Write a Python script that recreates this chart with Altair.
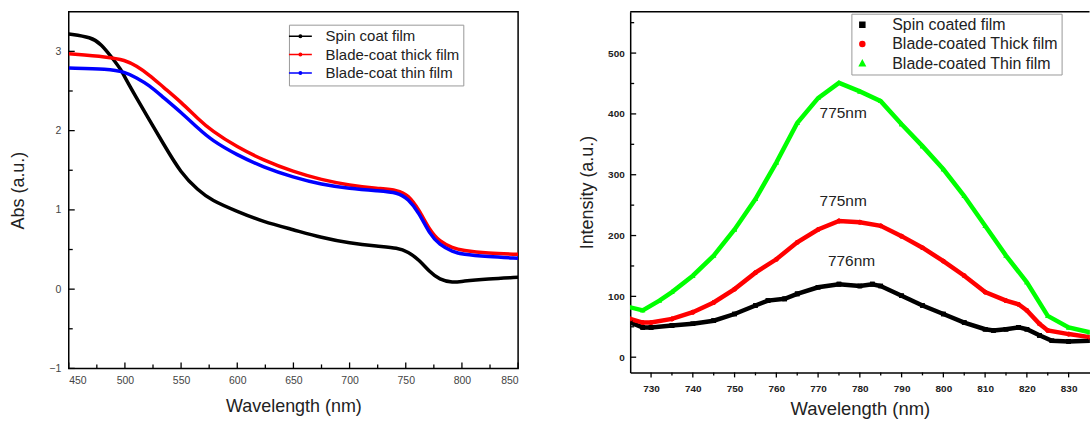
import altair as alt
import pandas as pd

FONT = "Liberation Sans"

# ---------------- Left panel: absorption ----------------
abs_series = ["Spin coat film", "Blade-coat thick film", "Blade-coat thin film"]
abs_colors = ["#000000", "#ff0000", "#0000ff"]

spin_abs_wl = [450, 470, 479, 488, 497, 500, 510, 522, 534, 550, 565, 577, 600, 623, 650,
               675, 700, 725, 743, 752, 762, 771, 780, 792, 800, 823, 850]
spin_abs_val = [3.22, 3.18, 3.09, 2.93, 2.76, 2.67, 2.42, 2.13, 1.84, 1.46, 1.25, 1.12, 0.98, 0.85, 0.75,
                0.65, 0.58, 0.54, 0.52, 0.47, 0.37, 0.22, 0.12, 0.08, 0.10, 0.13, 0.15]

thick_abs_wl = [450, 485, 500, 510, 522, 534, 550, 565, 577, 600, 623, 650, 675, 700, 725,
                743, 752, 762, 771, 780, 792, 800, 823, 850]
thick_abs_val = [2.97, 2.93, 2.89, 2.82, 2.70, 2.55, 2.36, 2.15, 2.00, 1.79, 1.63, 1.48, 1.38, 1.31, 1.27,
                 1.25, 1.19, 1.00, 0.75, 0.60, 0.52, 0.49, 0.45, 0.44]

thin_abs_wl = [450, 485, 500, 510, 522, 534, 550, 565, 577, 600, 623, 650, 675, 700, 725,
               743, 752, 762, 771, 780, 792, 800, 823, 850]
thin_abs_val = [2.79, 2.78, 2.74, 2.67, 2.57, 2.42, 2.23, 2.03, 1.88, 1.69, 1.54, 1.41, 1.32, 1.27, 1.24,
                1.22, 1.14, 0.96, 0.70, 0.56, 0.47, 0.44, 0.41, 0.39]

abs_xticks_major = [450, 500, 550, 600, 650, 700, 750, 800, 850]
abs_xticks_minor = [475, 525, 575, 625, 675, 725, 775, 825]
abs_yticks_major = [-1, 0, 1, 2, 3]
abs_yticks_minor = [-0.5, 0.5, 1.5, 2.5]

# ---------------- Right panel: photoluminescence ----------------
pl_series = ["Spin coated film", "Blade-coated Thick film", "Blade-coated Thin film"]
pl_colors = ["#000000", "#ff0000", "#00ff00"]

spin_pl_wl = [725, 728, 730, 735, 740, 745, 750, 755, 758, 762, 765, 770, 775, 780, 783, 785,
              790, 795, 800, 805, 810, 812, 815, 818, 820, 823, 826, 830, 835, 840]
spin_pl_val = [57, 49, 49, 52, 55, 60, 71, 85, 93, 96, 104, 115, 120, 117, 120, 117,
               101, 85, 71, 57, 46, 44, 46, 49, 46, 36, 27, 26, 27, 26]

thick_pl_wl = [725, 728, 730, 735, 740, 745, 750, 755, 760, 765, 770, 775, 780, 785, 790,
               795, 800, 805, 810, 815, 818, 820, 823, 825, 830, 835, 840]
thick_pl_val = [63, 57, 57, 63, 74, 90, 112, 139, 161, 189, 210, 224, 222, 216, 199,
                180, 158, 134, 107, 93, 87, 77, 55, 44, 38, 33, 30]

thin_pl_wl = [725, 728, 732, 735, 740, 745, 750, 755, 760, 765, 770, 775, 780, 785, 790,
              795, 800, 805, 810, 815, 820, 825, 830, 835, 840]
thin_pl_val = [82, 77, 93, 107, 134, 167, 210, 260, 320, 385, 426, 451, 437, 421, 383,
               347, 309, 265, 216, 167, 123, 68, 49, 41, 36]

pl_xticks_major = [730, 740, 750, 760, 770, 780, 790, 800, 810, 820, 830]
pl_xticks_minor = [735, 745, 755, 765, 775, 785, 795, 805, 815, 825]
pl_yticks_major = [0, 100, 200, 300, 400, 500]
pl_yticks_minor = [50, 150, 250, 350, 450, 550]

peak_labels = ["775nm", "775nm", "776nm"]
peak_x = [776, 776, 778]
peak_y = [401, 257, 158]

# ---------------- data tables ----------------
def table(series_names, wls, vals):
    rows = []
    for i, (name, w, v) in enumerate(zip(series_names, wls, vals)):
        for a, b in zip(w, v):
            rows.append({"series": name, "wl": a, "val": b, "k": i})
    return pd.DataFrame(rows)

abs_df = table(abs_series, [spin_abs_wl, thick_abs_wl, thin_abs_wl],
               [spin_abs_val, thick_abs_val, thin_abs_val])
pl_df = table(pl_series, [spin_pl_wl, thick_pl_wl, thin_pl_wl],
              [spin_pl_val, thick_pl_val, thin_pl_val])
peak_df = pd.DataFrame({"label": peak_labels, "wl": peak_x, "val": peak_y})


def vrule_ticks(vals, scale, axis, y0, y1, w=1.3):
    return alt.Chart(pd.DataFrame({"v": vals})).mark_rule(color="black", strokeWidth=w).encode(
        x=alt.X("v:Q", scale=scale, axis=axis), y=alt.value(y0), y2=alt.value(y1))


def hrule_ticks(vals, scale, axis, x0, x1, w=1.3):
    return alt.Chart(pd.DataFrame({"v": vals})).mark_rule(color="black", strokeWidth=w).encode(
        y=alt.Y("v:Q", scale=scale, axis=axis), x=alt.value(x0), x2=alt.value(x1))


# ---------------- left chart ----------------
LW, LH = 451, 358
xL = alt.Scale(domain=[450, 850], nice=False, zero=False)
yL = alt.Scale(domain=[-1, 3.5], nice=False, zero=False)

x_axis_l = alt.Axis(values=abs_xticks_major, title="Wavelength (nm)", ticks=False, tickSize=0,
                    domain=False, grid=False, labelPadding=7, titlePadding=12, labelFontSize=10.5,
                    labelColor="#444", labelFont=FONT, titleFont=FONT, titleFontSize=18,
                    titleFontWeight="normal", titleColor="#222")
y_axis_l = alt.Axis(values=abs_yticks_major, title="Abs (a.u.)", ticks=False, tickSize=0,
                    domain=False, grid=False, labelPadding=8, titlePadding=21, labelFontSize=10.5,
                    labelColor="#444", labelFont=FONT, titleFont=FONT, titleFontSize=18,
                    titleFontWeight="normal", titleColor="#222")

line_sym = "M-2,0H2M0.22,0A0.22,0.22,0,1,1,-0.22,0A0.22,0.22,0,1,1,0.22,0"

left_lines = alt.Chart(abs_df).mark_line(strokeWidth=3.5, interpolate="basis", clip=True).encode(
    x=alt.X("wl:Q", scale=xL, axis=x_axis_l),
    y=alt.Y("val:Q", scale=yL, axis=y_axis_l),
    color=alt.Color("series:N", scale=alt.Scale(domain=abs_series, range=abs_colors),
                    legend=alt.Legend(orient="none", legendX=221, legendY=13, title=None,
                                      strokeColor="#999999", fillColor="white", padding=4,
                                      symbolType=line_sym, symbolSize=132, symbolStrokeWidth=1.5,
                                      labelOffset=17.75, labelFont=FONT, labelFontSize=15,
                                      labelColor="#222", rowPadding=2.5, labelLimit=0)),
    detail="series:N",
)

left = alt.layer(
    left_lines,
    vrule_ticks(abs_xticks_major, xL, x_axis_l, LH, LH - 6),
    vrule_ticks(abs_xticks_minor, xL, x_axis_l, LH, LH - 4),
    hrule_ticks(abs_yticks_major, yL, y_axis_l, 0, 6),
    hrule_ticks(abs_yticks_minor, yL, y_axis_l, 0, 4),
).properties(width=LW, height=LH,
             view=alt.ViewBackground(stroke="black", strokeWidth=1.5, fill="white"))

# ---------------- right chart ----------------
RW, RH = 461, 362
xR = alt.Scale(domain=[725, 835], nice=False, zero=False)
yR = alt.Scale(domain=[-25, 568], nice=False, zero=False)

shape_paths = [
    "M-8.5,0M-1,-1H1V1H-1Z",
    "M-8.5,0M1,0A1,1,0,1,1,-1,0A1,1,0,1,1,1,0Z",
    "M-8.5,0M0,-1.15L1.1,0.85H-1.1Z",
]

x_axis_r = alt.Axis(values=pl_xticks_major, title="Wavelength (nm)", ticks=False, tickSize=0,
                    domain=True, domainColor="black", domainWidth=1.5, grid=False,
                    labelPadding=11, titlePadding=6, labelFontSize=10, labelFontWeight="bold",
                    labelColor="#222", labelFont=FONT, titleFont=FONT, titleFontSize=18.5,
                    titleFontWeight="normal", titleColor="#222")
y_axis_r = alt.Axis(values=pl_yticks_major, title="Intensity (a.u.)", ticks=False, tickSize=0,
                    domain=True, domainColor="black", domainWidth=1.5, grid=False,
                    labelPadding=6, titlePadding=11, labelFontSize=10, labelFontWeight="bold",
                    labelColor="#222", labelFont=FONT, titleFont=FONT, titleFontSize=18,
                    titleFontWeight="normal", titleColor="#222")

pl_color = alt.Scale(domain=pl_series, range=pl_colors)
pl_shape = alt.Scale(domain=pl_series, range=shape_paths)

pl_legend = alt.Legend(orient="none", legendX=222, legendY=2, title=None,
                       strokeColor="#999999", fillColor="white", padding=3,
                       symbolSize=25, labelOffset=22, labelFont=FONT, labelFontSize=16,
                       labelColor="#222", rowPadding=3.5, labelLimit=0)

right_lines = alt.Chart(pl_df).mark_line(strokeWidth=4.5, clip=True).encode(
    x=alt.X("wl:Q", scale=xR, axis=x_axis_r),
    y=alt.Y("val:Q", scale=yR, axis=y_axis_r),
    color=alt.Color("series:N", scale=pl_color, legend=pl_legend),
    detail="series:N",
)

right_points = alt.Chart(pl_df).mark_point(filled=True, size=22, opacity=1, clip=True).encode(
    x=alt.X("wl:Q", scale=xR, axis=x_axis_r),
    y=alt.Y("val:Q", scale=yR, axis=y_axis_r),
    color=alt.Color("series:N", scale=pl_color, legend=pl_legend),
    shape=alt.Shape("series:N", scale=pl_shape, legend=pl_legend),
)

peaks = alt.Chart(peak_df).mark_text(font=FONT, fontSize=15.5, color="#222").encode(
    x=alt.X("wl:Q", scale=xR, axis=x_axis_r),
    y=alt.Y("val:Q", scale=yR, axis=y_axis_r),
    text="label:N")

top_border = alt.Chart(pd.DataFrame({"v": [0]})).mark_rule(color="black", strokeWidth=1.5).encode(
    x=alt.value(0), x2=alt.value(RW), y=alt.value(0))

right = alt.layer(
    right_points,
    right_lines,
    right_points,
    peaks,
    top_border,
    vrule_ticks(pl_xticks_major, xR, x_axis_r, RH, RH + 5),
    vrule_ticks(pl_xticks_minor, xR, x_axis_r, RH, RH + 3),
    hrule_ticks(pl_yticks_major, yR, y_axis_r, 0, 6),
    hrule_ticks(pl_yticks_minor, yR, y_axis_r, 0, 4),
).properties(width=RW, height=RH, view=alt.ViewBackground(stroke=None, fill="white"))

chart = alt.hconcat(left, right, spacing=112.5, bounds="flush").resolve_scale(
    color="independent", shape="independent"
).properties(
    padding={"left": 9, "top": 10, "right": 0, "bottom": 0},
    background="white",
)

chart.save("out.html", embed_options={"renderer": "svg", "actions": False})
